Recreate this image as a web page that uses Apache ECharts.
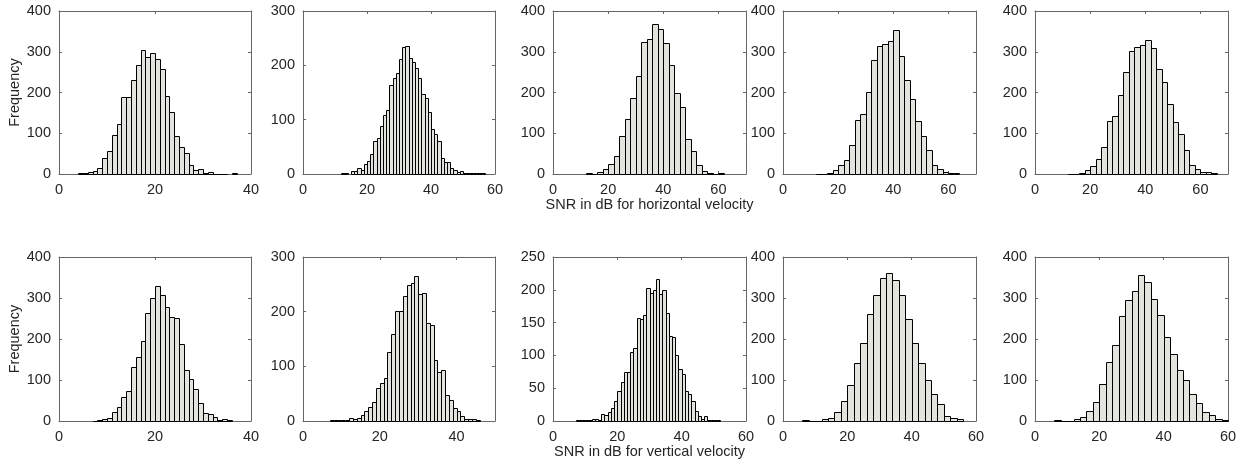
<!DOCTYPE html>
<html><head><meta charset="utf-8">
<script src="https://cdn.jsdelivr.net/npm/echarts@6/dist/echarts.min.js"></script>
<style>html,body{margin:0;padding:0;background:#fff}#c{width:1258px;height:466px}</style>
</head><body><div id="c"></div>
<script>
// ---- Horizontal velocity (top row) ----
const hBinStart = [4, 12, 12, 12, 12];
const hBinWidth = [1, 1, 2, 2, 2];
const hXMax = [40, 60, 70, 70, 70];
const hYMax = [400, 300, 400, 400, 400];
const hCounts1 = [3,2,6,8,15,39,57,96,123,188,188,230,267,305,288,297,283,257,192,152,94,67,51,23,9,12,3,6,1,1,1,0,2];
const hCounts2 = [1,1,0,5,6,11,8,19,24,36,61,67,88,109,118,164,177,186,212,233,236,214,206,195,176,148,140,115,83,73,60,29,22,22,11,8,3,5,2,1,1,1,1,1,2];
const hCounts3 = [2,1,4,13,25,45,93,136,187,240,325,332,368,356,322,267,200,165,87,57,22,8,3,1,2];
const hCounts4 = [1,1,3,10,22,35,72,133,148,201,280,315,318,326,354,290,231,184,131,93,60,23,12,4,3,2];
const hCounts5 = [1,1,3,9,20,38,67,130,143,195,251,303,311,316,330,308,258,225,172,128,97,60,22,12,5,4,2];

// ---- Vertical velocity (bottom row) ----
const vBinStart = [7, 7, 7, 6, 6];
const vBinWidth = [1, 1, 1, 2, 2];
const vXMax = [40, 50, 60, 60, 60];
const vYMax = [400, 300, 250, 400, 400];
const vCounts1 = [1,2,5,8,21,33,59,72,131,157,196,263,300,330,308,278,254,251,188,124,102,79,44,20,16,9,2,4,2];
const vCounts2 = [2,1,1,1,1,6,3,5,11,19,25,34,61,70,78,127,160,201,202,228,249,252,265,233,234,180,176,112,90,93,47,38,23,19,9,3,3,3,1];
const vCounts3 = [2,1,1,1,1,3,3,1,10,9,14,20,30,46,60,74,75,105,112,157,155,162,203,195,200,216,194,200,165,130,128,100,79,72,46,41,30,15,8,3,7,2,2,1,1];
const vCounts4 = [2,1,1,5,8,23,48,87,141,190,262,307,350,362,344,307,248,190,142,101,67,41,12,7,4];
const vCounts5 = [2,1,1,6,9,24,47,90,145,185,255,294,318,357,340,297,258,205,163,125,100,65,45,22,14,6,2];

const xTitleTop = 'SNR in dB for horizontal velocity';
const xTitleBottom = 'SNR in dB for vertical velocity';
const yTitle = 'Frequency';

const panels = [
  {start:hBinStart[0], w:hBinWidth[0], xmax:hXMax[0], ymax:hYMax[0], counts:hCounts1},
  {start:hBinStart[1], w:hBinWidth[1], xmax:hXMax[1], ymax:hYMax[1], counts:hCounts2},
  {start:hBinStart[2], w:hBinWidth[2], xmax:hXMax[2], ymax:hYMax[2], counts:hCounts3},
  {start:hBinStart[3], w:hBinWidth[3], xmax:hXMax[3], ymax:hYMax[3], counts:hCounts4},
  {start:hBinStart[4], w:hBinWidth[4], xmax:hXMax[4], ymax:hYMax[4], counts:hCounts5},
  {start:vBinStart[0], w:vBinWidth[0], xmax:vXMax[0], ymax:vYMax[0], counts:vCounts1},
  {start:vBinStart[1], w:vBinWidth[1], xmax:vXMax[1], ymax:vYMax[1], counts:vCounts2},
  {start:vBinStart[2], w:vBinWidth[2], xmax:vXMax[2], ymax:vYMax[2], counts:vCounts3},
  {start:vBinStart[3], w:vBinWidth[3], xmax:vXMax[3], ymax:vYMax[3], counts:vCounts4},
  {start:vBinStart[4], w:vBinWidth[4], xmax:vXMax[4], ymax:vYMax[4], counts:vCounts5}
];

const lefts = [59, 303, 553, 783, 1035];
const widths = [192, 192, 193, 193, 193];
const rowTop = [11, 257];
const rowH = [163, 164];

const FONT = '"Liberation Sans", Arial, Helvetica, sans-serif';
const FS = 14.5;
const TXT = '#262626';
const AX = '#666666';
const FILL = '#e4e4df';

const grids = [], xAxes = [], yAxes = [], series = [];
panels.forEach((p, i) => {
  const row = i < 5 ? 0 : 1, col = i % 5;
  grids.push({left: lefts[col], top: rowTop[row], width: widths[col], height: rowH[row], outerBoundsMode: 'none', containLabel: false});
  const common = {
    type: 'value', gridIndex: i, min: 0, max: p.xmax, interval: 20,
    axisLine: {show: true, onZero: false, lineStyle: {color: AX, width: 1}},
    axisTick: {show: true, inside: true, length: 3, lineStyle: {color: AX}},
    splitLine: {show: false}
  };
  const xb = Object.assign({}, common, {
    position: 'bottom',
    axisLabel: {show: true, margin: 8, color: TXT, fontFamily: FONT, fontSize: FS,
      formatter: v => (v % 20 === 0 && v <= p.xmax) ? String(v) : '', showMaxLabel: true}
  });
  if (i === 2 || i === 7) {
    Object.assign(xb, {name: i === 2 ? xTitleTop : xTitleBottom, nameLocation: 'middle', nameGap: 18,
      nameTextStyle: {color: TXT, fontFamily: FONT, fontSize: FS}});
  }
  xAxes.push(xb);
  xAxes.push(Object.assign({}, common, {position: 'top', axisLabel: {show: false}}));
  const ycommon = {
    type: 'value', gridIndex: i, min: 0, max: p.ymax, interval: p.ymax === 250 ? 50 : 100,
    axisLine: {show: true, onZero: false, lineStyle: {color: AX, width: 1}},
    axisTick: {show: true, inside: true, length: 3, lineStyle: {color: AX}},
    splitLine: {show: false}
  };
  const yl = Object.assign({}, ycommon, {
    position: 'left',
    axisLabel: {show: true, margin: 8, color: TXT, fontFamily: FONT, fontSize: FS}
  });
  if (col === 0) {
    Object.assign(yl, {name: yTitle, nameLocation: 'middle', nameGap: 31,
      nameTextStyle: {color: TXT, fontFamily: FONT, fontSize: FS}});
  }
  yAxes.push(yl);
  yAxes.push(Object.assign({}, ycommon, {position: 'right', axisLabel: {show: false}}));

  const data = p.counts.map((c, k) => [p.start + k * p.w, p.start + (k + 1) * p.w, c]);
  series.push({
    type: 'custom', xAxisIndex: 2 * i, yAxisIndex: 2 * i,
    encode: {x: [0, 1], y: 2},
    data: data,
    renderItem: function (params, api) {
      const x0 = api.value(0), x1 = api.value(1), y = api.value(2);
      if (y <= 0) return null;
      const a = api.coord([x0, 0]);
      const b = api.coord([x1, y]);
      const L = Math.round(a[0]) + 0.5, R = Math.round(b[0]) + 0.5;
      const B = Math.round(a[1]) + 0.5, T = Math.round(b[1]) + 0.5;
      return {type: 'rect', shape: {x: L, y: T, width: R - L, height: B - T},
        style: {fill: FILL, stroke: '#000', lineWidth: 1}};
    },
    silent: true
  });
});

const chart = echarts.init(document.getElementById('c'), null, {renderer: 'canvas'});
chart.setOption({
  animation: false,
  backgroundColor: '#fff',
  textStyle: {fontFamily: FONT},
  grid: grids, xAxis: xAxes, yAxis: yAxes, series: series
});
</script></body></html>
